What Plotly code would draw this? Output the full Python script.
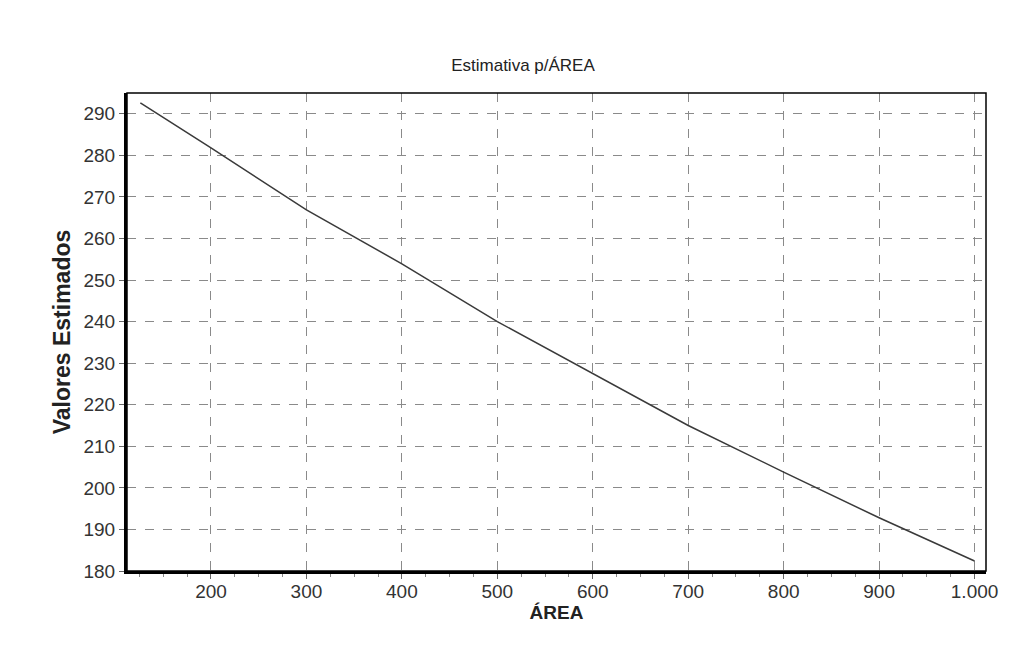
import plotly.graph_objects as go

area = [126, 200, 300, 400, 500, 600, 700, 800, 900, 1000]
valores = [292.6, 281.8, 266.9, 253.9, 240.0, 227.6, 215.0, 203.8, 192.8, 182.4]

x_ticks = [200, 300, 400, 500, 600, 700, 800, 900, 1000]
y_ticks = [180, 190, 200, 210, 220, 230, 240, 250, 260, 270, 280, 290]

W, H = 1002, 662

fig = go.Figure()
fig.add_trace(go.Scatter(x=area, y=valores, mode="lines",
                         line=dict(color="#3a3a3a", width=1.5), showlegend=False))

grid = dict(showgrid=True, gridcolor="#8a8a8a", griddash="dash", gridwidth=1)
fig.update_xaxes(range=[112, 1012], tickvals=x_ticks, tickformat=",d",
                 showline=True, linecolor="black", linewidth=3,
                 ticks="outside", ticklen=5, tickcolor="#666",
                 ticklabelstandoff=-4,
                 minor=dict(ticks="outside", ticklen=3, tickcolor="#888", dtick=25),
                 tickfont=dict(family="Arial", size=19, color="#333"),
                 title=dict(text="<b>ÁREA</b>", font=dict(family="Arial", size=19, color="#222"), standoff=0),
                 zeroline=False, **grid)
fig.update_yaxes(range=[180, 295], tickvals=y_ticks,
                 showline=True, linecolor="black", linewidth=3,
                 ticks="outside", ticklen=5, tickcolor="#666",
                 tickfont=dict(family="Arial", size=19, color="#333"),
                 title=dict(text="<b>Valores Estimados</b>", font=dict(family="Arial", size=23, color="#222"), standoff=7),
                 zeroline=False, **grid)
fig.add_shape(type="rect", xref="paper", yref="paper", x0=0, y0=0, x1=1, y1=1,
              line=dict(color="black", width=1.5), layer="above")
fig.update_layout(
    width=W, height=H,
    margin=dict(l=119, r=20, t=85, b=99),
    paper_bgcolor="white", plot_bgcolor="white",
    separators=",.",
    title=dict(text="Estimativa p/ÁREA", x=(523 - 8) / W, xanchor="center", y=1 - 57 / H, yanchor="middle",
               font=dict(family="Arial", size=17, color="#222")),
)
fig.write_html("out.html")
